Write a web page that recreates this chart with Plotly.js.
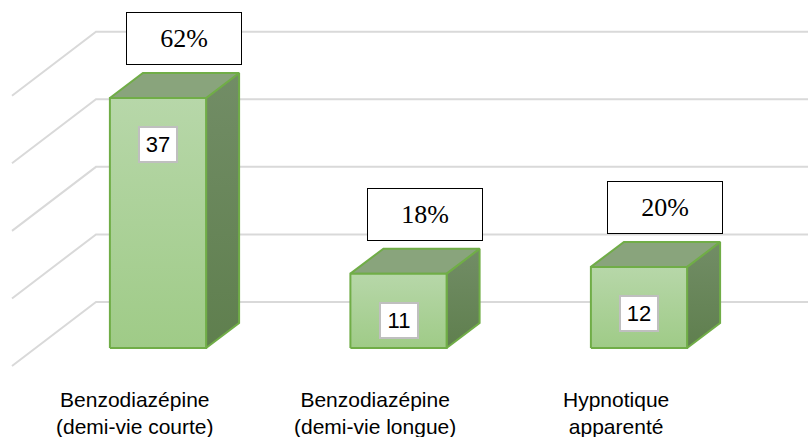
<!DOCTYPE html>
<html>
<head>
<meta charset="utf-8">
<script src="https://cdn.plot.ly/plotly-3.0.1.min.js"></script>
<style>html,body{margin:0;padding:0;background:#fff;}#chart{width:808px;height:437px;}</style>
</head>
<body>
<div id="chart"></div>
<script>
// ---- data ----
const categories = ['Benzodiazépine<br>(demi-vie courte)', 'Benzodiazépine<br>(demi-vie longue)', 'Hypnotique<br>apparenté'];
const counts = [37, 11, 12];
const percents = [62, 18, 20];
const gridTicks = [0, 10, 20, 30, 40];

// ---- oblique 3D projection constants (data units) ----
const HALF = 0.2;            // half bar width
const BDX = 0.1372, BDY = 3.70;   // bar depth offset
const WX = 0.2516, WY = 6.808;    // back wall offset from bar front plane
const FX = -0.0977, FY = -2.664;  // floor front offset from bar front plane
const XL = -0.5094;               // left wall position
const XR = 3.3;

const green = '#70ad47';
const traces = [];

// gridlines (floor-left wall + back wall)
const gx = [], gy = [];
gridTicks.forEach(t => {
  gx.push(XL + FX, XL + WX, XR, null);
  gy.push(t + FY, t + WY, t + WY, null);
});
traces.push({x: gx, y: gy, mode: 'lines', line: {color: '#d9d9d9', width: 2}, hoverinfo: 'skip', showlegend: false});

counts.forEach((v, i) => {
  const l = i - HALF, r = i + HALF;
  // side face
  traces.push({
    x: [r, r + BDX, r + BDX, r, r], y: [0, BDY, v + BDY, v, 0],
    mode: 'lines', fill: 'toself', line: {color: green, width: 2},
    fillgradient: {type: 'vertical', colorscale: [[0, '#5f7f4e'], [1, '#728d66']]},
    hoverinfo: 'skip', showlegend: false
  });
  // top face
  traces.push({
    x: [l, r, r + BDX, l + BDX, l], y: [v, v, v + BDY, v + BDY, v],
    mode: 'lines', fill: 'toself', fillcolor: '#89a47c', line: {color: green, width: 2},
    hoverinfo: 'skip', showlegend: false
  });
  // front face
  traces.push({
    x: [l, r, r, l, l], y: [0, 0, v, v, 0],
    mode: 'lines', fill: 'toself', line: {color: green, width: 2},
    fillgradient: {type: 'vertical', colorscale: [[0, '#9fcb87'], [1, '#b7d7a9']]},
    hoverinfo: 'skip', showlegend: false
  });
});

const annotations = [];
counts.forEach((v, i) => {
  annotations.push({
    x: i, y: v, xref: 'x', yref: 'y', yshift: -47, showarrow: false,
    text: String(v), font: {family: 'Liberation Sans, Arial', size: 22, color: '#000'},
    bgcolor: '#fff', bordercolor: '#bfbfbf', borderwidth: 2, borderpad: 0, width: 36, height: 33
  });
  annotations.push({
    x: i, y: v, xref: 'x', yref: 'y', xshift: 26, yshift: 59, showarrow: false,
    text: percents[i] + '%', font: {family: 'Liberation Serif, Times New Roman', size: 26, color: '#000'},
    bgcolor: '#fff', bordercolor: '#000', borderwidth: 1, borderpad: 0, width: 114, height: 51
  });
});
categories.forEach((c, i) => {
  annotations.push({
    x: i + FX, y: FY, xref: 'x', yref: 'y', yshift: -47, yanchor: 'middle', showarrow: false,
    text: c, font: {family: 'Liberation Sans, Arial', size: 21, color: '#000'}
  });
});

const layout = {
  width: 808, height: 437,
  margin: {l: 0, r: 0, t: 0, b: 0},
  paper_bgcolor: '#fff', plot_bgcolor: '#fff',
  showlegend: false,
  xaxis: {range: [-0.65696, 2.70270], visible: false, fixedrange: true},
  yaxis: {range: [-13.171, 51.50], visible: false, fixedrange: true},
  annotations: annotations
};
Plotly.newPlot('chart', traces, layout, {staticPlot: true, displayModeBar: false});
</script>
</body>
</html>
